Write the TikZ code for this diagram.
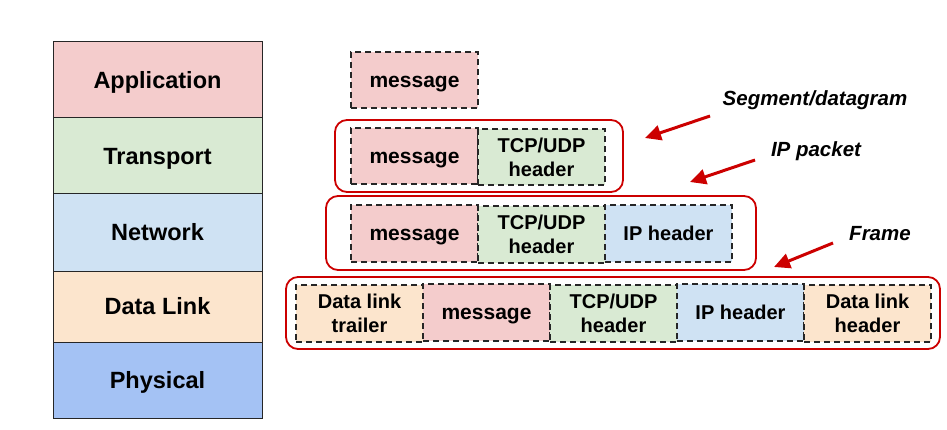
\documentclass[tikz,border=0pt]{standalone}
\usepackage{fontspec}
\setmainfont{Liberation Sans}
\usetikzlibrary{arrows.meta}
\definecolor{appc}{HTML}{F4CCCC}
\definecolor{trnc}{HTML}{D9EAD3}
\definecolor{netc}{HTML}{CFE2F3}
\definecolor{lnkc}{HTML}{FCE5CD}
\definecolor{phyc}{HTML}{A4C2F4}
\definecolor{redc}{HTML}{CC0000}
\begin{document}
\begin{tikzpicture}[x=1pt,y=-1pt,
  layer/.style={draw=black!85, line width=1pt, minimum width=209pt, inner sep=0pt,
    text height=21.3pt, text depth=5pt, font=\fontsize{23.5}{28}\selectfont\bfseries},
  field/.style={draw=black!85, dash pattern=on 6pt off 4pt, line width=1.6pt,
    minimum width=127pt, inner sep=0pt, align=center,
    font=\fontsize{20}{24}\selectfont\bfseries},
  oneline/.style={field, text height=18.1pt, text depth=4.24pt},
  msgfield/.style={field, fill=appc, text height=19pt, text depth=4.45pt,
    font=\fontsize{21}{24}\selectfont\bfseries},
  twoline/.style={field, yshift=-1pt},
  unit/.style={draw=redc, line width=1.8pt, rounded corners=12pt, inner sep=0pt},
  callout/.style={font=\fontsize{20.5}{24}\selectfont\bfseries\itshape},
  pointer/.style={draw=redc, line width=3pt, -{Triangle[length=16pt,width=15pt]}}
]
\useasboundingbox (0,0) rectangle (947,430);

% protocol stack
\node[layer, fill=appc, minimum height=76pt] (lApp) at (157.5,80) {Application};
\node[layer, fill=trnc, minimum height=76pt] (lTrn) at (157.5,156) {Transport};
\node[layer, fill=netc, minimum height=77pt] (lNet) at (157.5,232.5) {Network};
\node[layer, fill=lnkc, minimum height=71pt] (lLnk) at (157.5,306.5) {Data Link};
\node[layer, fill=phyc, minimum height=76pt] (lPhy) at (157.5,380) {Physical};

% encapsulation units
\node[unit, minimum width=288pt, minimum height=72pt] (uSeg) at (479,156) {};
\node[unit, minimum width=430pt, minimum height=74pt] (uPkt) at (541,233) {};
\node[unit, minimum width=654pt, minimum height=72pt] (uFrm) at (613,313) {};

% application message
\node[msgfield, minimum height=56pt] (aMsg) at (414.5,80) {message};

% segment
\node[msgfield, minimum height=56pt] (sMsg) at (414.5,156) {message};
\node[twoline, fill=trnc, minimum height=56pt] (sTcp) at (541.5,156) {TCP/UDP\\header};

% packet
\node[msgfield, minimum height=57pt] (pMsg) at (414.5,233.5) {message};
\node[twoline, fill=trnc, minimum height=57pt] (pTcp) at (541.5,233.5) {TCP/UDP\\header};
\node[oneline, fill=netc, minimum height=57pt] (pIp) at (668.5,233.5) {IP header};

% frame
\node[twoline, fill=lnkc, minimum height=57pt] (fTrl) at (359.5,312.5) {Data link\\trailer};
\node[msgfield, minimum height=57pt] (fMsg) at (486.5,312.5) {message};
\node[twoline, fill=trnc, minimum height=57pt] (fTcp) at (613.5,312.5) {TCP/UDP\\header};
\node[oneline, fill=netc, minimum height=57pt] (fIp) at (740.5,312.5) {IP header};
\node[twoline, fill=lnkc, minimum height=57pt] (fHdr) at (867.5,312.5) {Data link\\header};

% callouts
\node[callout] (cSeg) at (815,100) {Segment/datagram};
\node[callout] (cPkt) at (816,151) {IP packet};
\node[callout] (cFrm) at (880,234) {Frame};

\coordinate (sgTail) at (710,116);
\coordinate (sgHead) at (645,138);
\coordinate (pkTail) at (755,160);
\coordinate (pkHead) at (690,182);
\coordinate (frTail) at (833,243);
\coordinate (frHead) at (774,267);
\draw[pointer] (sgTail) -- (sgHead);
\draw[pointer] (pkTail) -- (pkHead);
\draw[pointer] (frTail) -- (frHead);
\end{tikzpicture}
\end{document}
